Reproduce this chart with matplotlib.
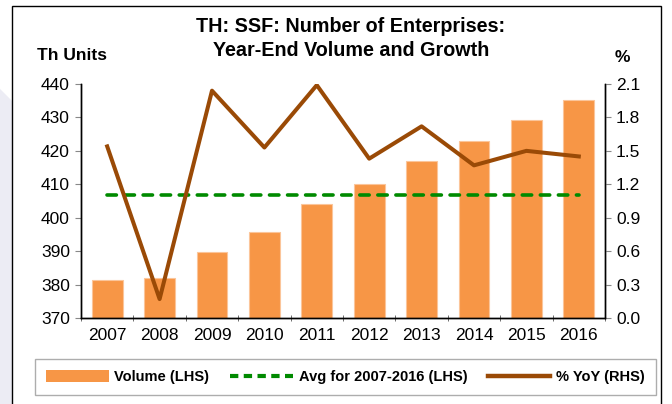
import matplotlib
matplotlib.use("Agg")
import matplotlib.pyplot as plt
import numpy as np
from matplotlib.patches import Rectangle, Polygon
from matplotlib.lines import Line2D
from matplotlib.ticker import FixedLocator

plt.rcParams["font.family"] = ["Liberation Sans", "DejaVu Sans"]

years = ["2007", "2008", "2009", "2010", "2011", "2012", "2013", "2014", "2015", "2016"]
volume = [381.4, 382.1, 389.8, 395.8, 404.1, 410.0, 417.1, 422.8, 429.1, 435.3]
yoy = [1.54, 0.17, 2.04, 1.53, 2.09, 1.43, 1.72, 1.37, 1.50, 1.45]
avg_volume = float(np.mean(volume))

ORANGE = "#F79646"
GREEN = "#008A00"
BROWN = "#9A4A06"

fig = plt.figure(figsize=(6.72, 4.04), dpi=100)

# fond décoratif et cadre
fig.patches.append(Polygon([[0, 0], [0.018, 0], [0.018, 0.75], [0, 0.78]],
                           closed=True, transform=fig.transFigure,
                           facecolor="#ECECF4", edgecolor="none", zorder=0))
fig.patches.append(Rectangle((12 / 672, -0.05), 649 / 672, 1.05 - 6 / 404,
                             transform=fig.transFigure, fill=False,
                             edgecolor="black", linewidth=1.0, zorder=1))

ax = fig.add_axes([81 / 672, 1 - 318 / 404, 524 / 672, 234 / 404])
ax2 = ax.twinx()

x = np.arange(len(years))
ax.bar(x, volume, width=0.59, color=ORANGE, edgecolor="#FBC59A", linewidth=0.8, zorder=2)
ax.plot([x[0], x[-1]], [avg_volume, avg_volume], color=GREEN, linewidth=2.6,
        linestyle=(0, (2.6, 2.4)), dash_capstyle="round", zorder=3)
ax2.plot(x, yoy, color=BROWN, linewidth=2.9, zorder=4)

ax.set_xlim(-0.5, 9.5)
ax.set_ylim(370, 440)
ax.set_yticks(np.arange(370, 441, 10))
ax2.set_ylim(0, 2.1)
ax2.set_yticks(np.arange(0, 2.11, 0.3))
ax2.set_yticklabels([f"{v:.1f}" for v in np.arange(0, 2.11, 0.3)])

ax.set_xticks(x)
ax.set_xticklabels(years)
ax.xaxis.set_minor_locator(FixedLocator(np.arange(-0.5, 10, 1)))
ax.tick_params(axis="x", which="major", length=0, labelsize=12.5, pad=7)
ax.tick_params(axis="x", which="minor", length=5, direction="inout", color="#555555")
ax.tick_params(axis="y", length=4, color="#888888", labelsize=12.5, pad=4)
ax2.tick_params(axis="y", length=4, color="#888888", labelsize=12.5, pad=4)

for a in (ax, ax2):
    a.spines["top"].set_visible(False)
    for s in ("left", "right", "bottom"):
        a.spines[s].set_linewidth(1.0)

fig.text(0.522, 1 - 27 / 404, "TH: SSF: Number of Enterprises:", ha="center", va="center",
         fontsize=14.2, fontweight="bold")
fig.text(0.522, 1 - 50 / 404, "Year-End Volume and Growth", ha="center", va="center",
         fontsize=14.2, fontweight="bold")
fig.text(37 / 672, 1 - 55 / 404, "Th Units", ha="left", va="center", fontsize=12.5, fontweight="bold")
fig.text(622 / 672, 1 - 57 / 404, "%", ha="center", va="center", fontsize=12.5, fontweight="bold")

handles = [
    Rectangle((0, 0), 1, 1, facecolor=ORANGE, edgecolor="none"),
    Line2D([], [], color=GREEN, linewidth=3.0, linestyle=(0, (2.0, 1.3))),
    Line2D([], [], color=BROWN, linewidth=3.2),
]
labels = ["Volume (LHS)", "Avg for 2007-2016 (LHS)", "% YoY (RHS)"]
leg = fig.legend(handles, labels, loc="lower left", ncol=3, mode="expand",
                 bbox_to_anchor=(35 / 672, 1 - 395 / 404, 621 / 672, 33 / 404),
                 prop={"weight": "bold", "size": 10.5}, handlelength=4.3, handleheight=0.9,
                 handletextpad=0.4, columnspacing=0.8, frameon=True, fancybox=False,
                 borderpad=0.75, borderaxespad=0)
leg.get_frame().set_edgecolor("#999999")
leg.get_frame().set_linewidth(1.0)

fig.savefig("out.png", dpi=100)
